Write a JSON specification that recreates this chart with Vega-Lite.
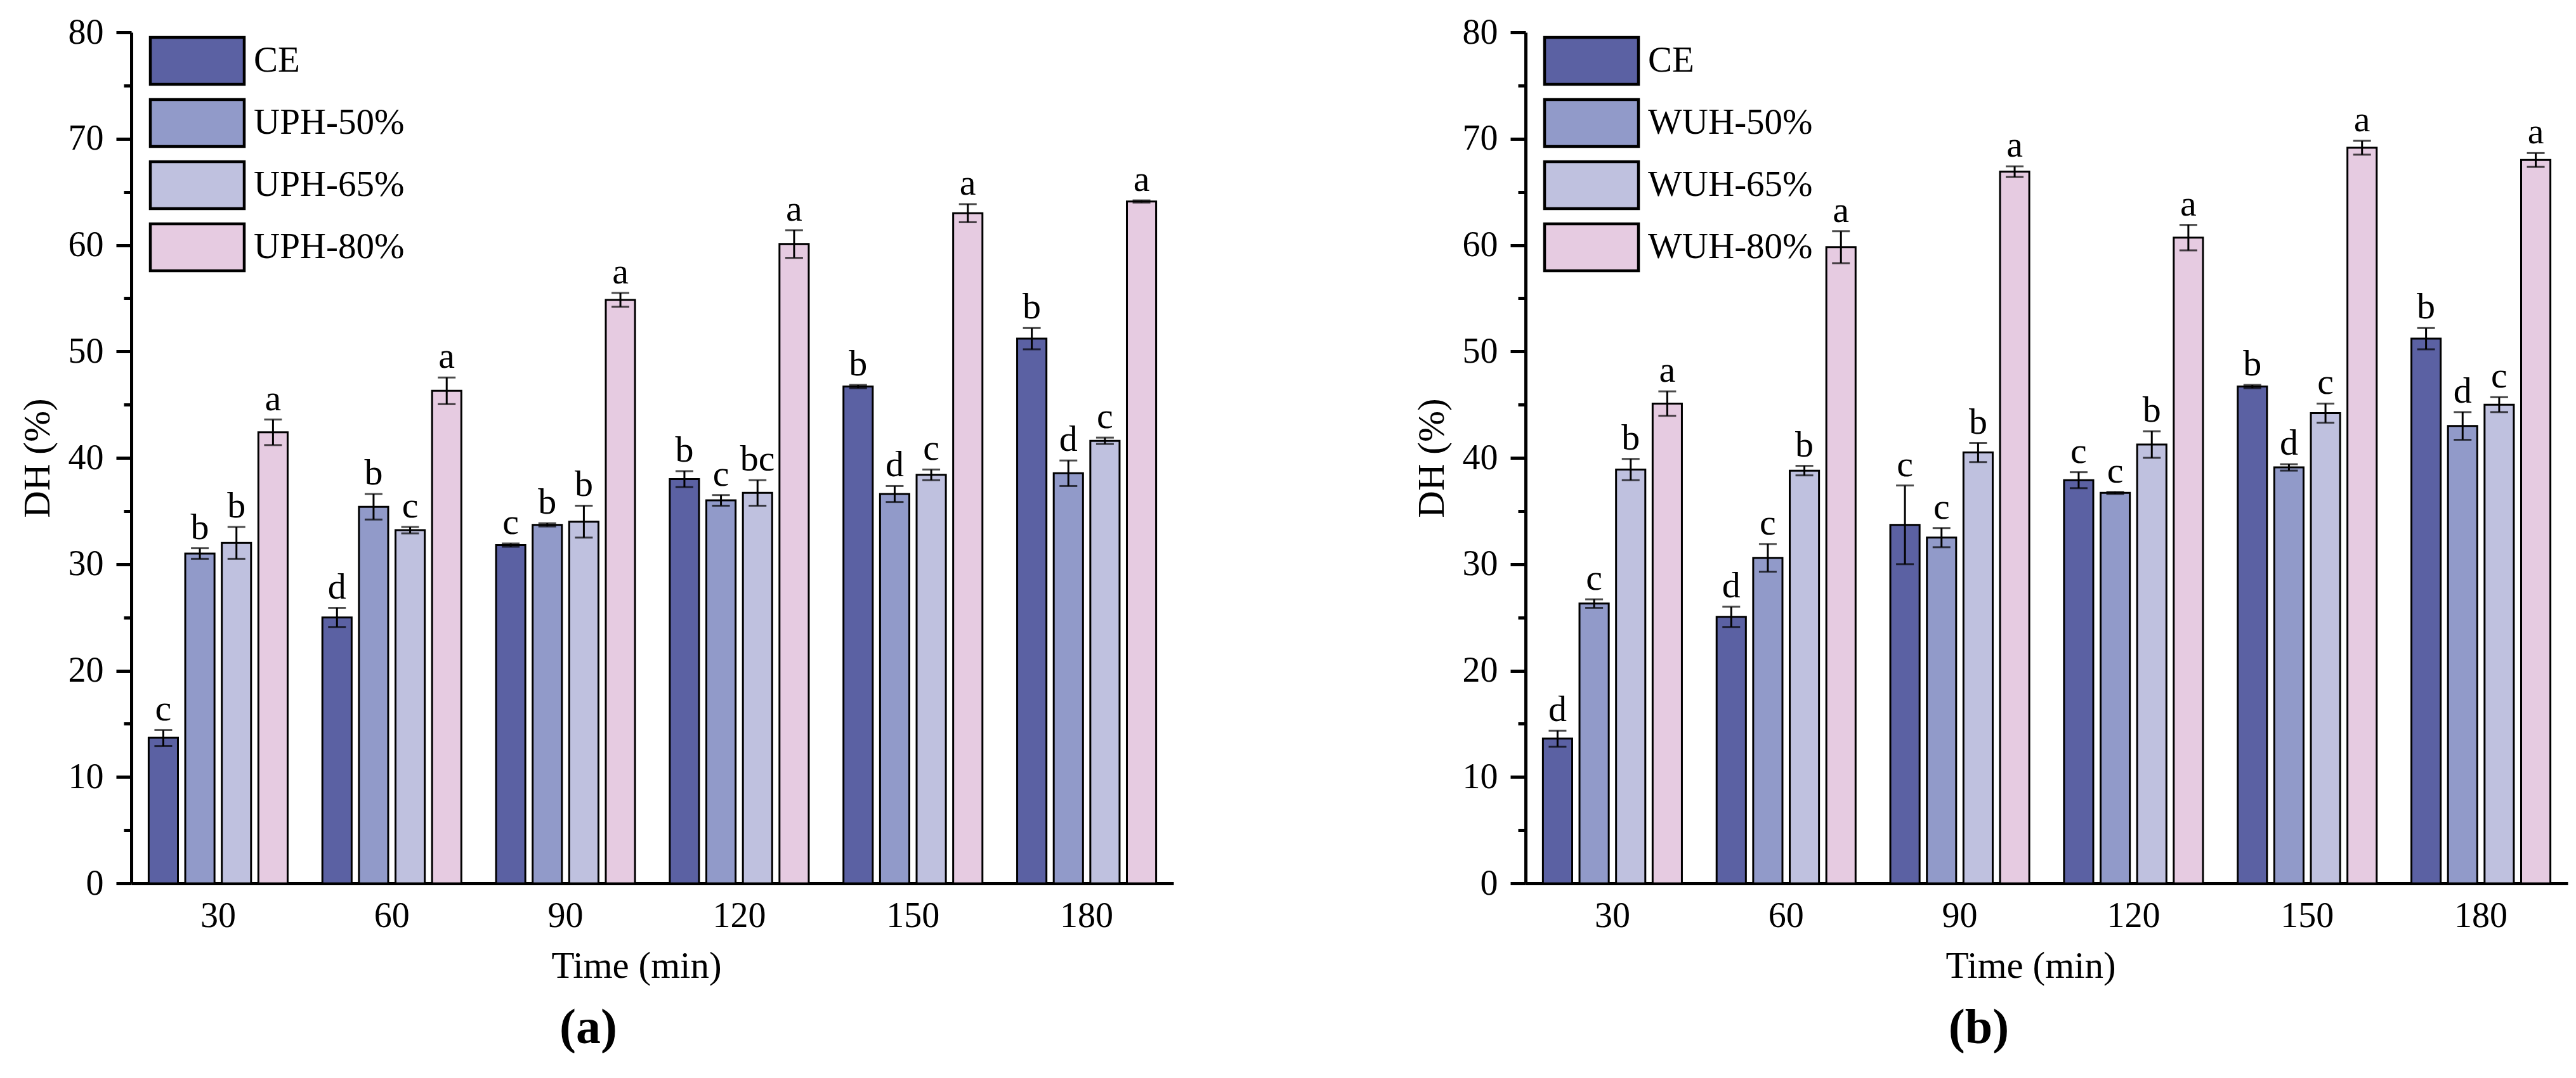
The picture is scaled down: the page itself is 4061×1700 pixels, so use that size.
{
  "$schema": "https://vega.github.io/schema/vega-lite/v6.json",
  "autosize": {"type": "pad"},
  "padding": {"left": 30, "top": 23, "right": 10, "bottom": 0},
  "config": {
    "font": "Liberation Serif",
    "view": {"stroke": null},
    "axis": {
      "domainColor": "black", "domainWidth": 5, "tickColor": "black", "tickWidth": 5,
      "labelColor": "black", "titleColor": "black", "labelFontSize": 56, "titleFontSize": 59,
      "titleFontWeight": "normal", "grid": false, "labelFont": "Liberation Serif", "titleFont": "Liberation Serif"
    },
    "legend": {"labelLimit": 0}
  },
  "datasets": {
    "a": [
      {"t":30,"g":"CE","v":13.7,"lo":12.9,"hi":14.4,"l":"c"},
      {"t":30,"g":"UPH-50%","v":31.0,"lo":30.5,"hi":31.5,"l":"b"},
      {"t":30,"g":"UPH-65%","v":32.0,"lo":30.5,"hi":33.5,"l":"b"},
      {"t":30,"g":"UPH-80%","v":42.4,"lo":41.2,"hi":43.6,"l":"a"},
      {"t":60,"g":"CE","v":25.0,"lo":24.1,"hi":25.9,"l":"d"},
      {"t":60,"g":"UPH-50%","v":35.4,"lo":34.2,"hi":36.6,"l":"b"},
      {"t":60,"g":"UPH-65%","v":33.2,"lo":32.9,"hi":33.5,"l":"c"},
      {"t":60,"g":"UPH-80%","v":46.3,"lo":45.05,"hi":47.55,"l":"a"},
      {"t":90,"g":"CE","v":31.8,"lo":31.65,"hi":31.95,"l":"c"},
      {"t":90,"g":"UPH-50%","v":33.7,"lo":33.55,"hi":33.85,"l":"b"},
      {"t":90,"g":"UPH-65%","v":34.0,"lo":32.5,"hi":35.5,"l":"b"},
      {"t":90,"g":"UPH-80%","v":54.85,"lo":54.2,"hi":55.5,"l":"a"},
      {"t":120,"g":"CE","v":38.0,"lo":37.25,"hi":38.75,"l":"b"},
      {"t":120,"g":"UPH-50%","v":36.0,"lo":35.5,"hi":36.5,"l":"c"},
      {"t":120,"g":"UPH-65%","v":36.7,"lo":35.5,"hi":37.9,"l":"bc"},
      {"t":120,"g":"UPH-80%","v":60.1,"lo":58.8,"hi":61.4,"l":"a"},
      {"t":150,"g":"CE","v":46.7,"lo":46.55,"hi":46.85,"l":"b"},
      {"t":150,"g":"UPH-50%","v":36.6,"lo":35.85,"hi":37.35,"l":"d"},
      {"t":150,"g":"UPH-65%","v":38.4,"lo":37.9,"hi":38.9,"l":"c"},
      {"t":150,"g":"UPH-80%","v":63.0,"lo":62.15,"hi":63.85,"l":"a"},
      {"t":180,"g":"CE","v":51.2,"lo":50.2,"hi":52.2,"l":"b"},
      {"t":180,"g":"UPH-50%","v":38.55,"lo":37.35,"hi":39.75,"l":"d"},
      {"t":180,"g":"UPH-65%","v":41.6,"lo":41.3,"hi":41.9,"l":"c"},
      {"t":180,"g":"UPH-80%","v":64.1,"lo":64.0,"hi":64.2,"l":"a"}
    ],
    "b": [
      {"t":30,"g":"CE","v":13.6,"lo":12.85,"hi":14.35,"l":"d"},
      {"t":30,"g":"WUH-50%","v":26.3,"lo":25.9,"hi":26.7,"l":"c"},
      {"t":30,"g":"WUH-65%","v":38.9,"lo":37.9,"hi":39.9,"l":"b"},
      {"t":30,"g":"WUH-80%","v":45.1,"lo":43.95,"hi":46.25,"l":"a"},
      {"t":60,"g":"CE","v":25.05,"lo":24.1,"hi":26.0,"l":"d"},
      {"t":60,"g":"WUH-50%","v":30.6,"lo":29.3,"hi":31.9,"l":"c"},
      {"t":60,"g":"WUH-65%","v":38.8,"lo":38.35,"hi":39.25,"l":"b"},
      {"t":60,"g":"WUH-80%","v":59.8,"lo":58.3,"hi":61.3,"l":"a"},
      {"t":90,"g":"CE","v":33.7,"lo":30.0,"hi":37.4,"l":"c"},
      {"t":90,"g":"WUH-50%","v":32.5,"lo":31.6,"hi":33.4,"l":"c"},
      {"t":90,"g":"WUH-65%","v":40.5,"lo":39.6,"hi":41.4,"l":"b"},
      {"t":90,"g":"WUH-80%","v":66.9,"lo":66.4,"hi":67.4,"l":"a"},
      {"t":120,"g":"CE","v":37.9,"lo":37.15,"hi":38.65,"l":"c"},
      {"t":120,"g":"WUH-50%","v":36.7,"lo":36.6,"hi":36.8,"l":"c"},
      {"t":120,"g":"WUH-65%","v":41.25,"lo":40.0,"hi":42.5,"l":"b"},
      {"t":120,"g":"WUH-80%","v":60.7,"lo":59.5,"hi":61.9,"l":"a"},
      {"t":150,"g":"CE","v":46.7,"lo":46.55,"hi":46.85,"l":"b"},
      {"t":150,"g":"WUH-50%","v":39.1,"lo":38.8,"hi":39.4,"l":"d"},
      {"t":150,"g":"WUH-65%","v":44.2,"lo":43.3,"hi":45.1,"l":"c"},
      {"t":150,"g":"WUH-80%","v":69.15,"lo":68.5,"hi":69.8,"l":"a"},
      {"t":180,"g":"CE","v":51.2,"lo":50.2,"hi":52.2,"l":"b"},
      {"t":180,"g":"WUH-50%","v":43.0,"lo":41.7,"hi":44.3,"l":"d"},
      {"t":180,"g":"WUH-65%","v":45.0,"lo":44.3,"hi":45.7,"l":"c"},
      {"t":180,"g":"WUH-80%","v":68.0,"lo":67.35,"hi":68.65,"l":"a"}
    ]
  },
  "spacing": 378,
  "resolve": {"scale": {"color": "independent", "fill": "independent", "xOffset": "independent"}, "legend": {"fill": "independent"}},
  "hconcat": [
    {
      "width": 1643, "height": 1342,
      "data": {"name": "a"},
      "title": {"text": "(a)", "orient": "bottom", "frame": "group", "anchor": "middle", "dx": -101, "offset": 30, "fontSize": 78, "fontWeight": "bold", "font": "Liberation Serif", "color": "black"},
      "encoding": {
        "x": {"field": "t", "type": "ordinal", "scale": {"paddingInner": 0.2, "paddingOuter": 0.1},
              "axis": {"title": "Time (min)", "ticks": false, "labelAngle": 0, "labelPadding": 24, "titlePadding": 22, "titleX": 796}},
        "xOffset": {"field": "g", "type": "nominal", "scale": {"domain": ["CE","UPH-50%","UPH-65%","UPH-80%"], "paddingInner": 0.2, "paddingOuter": 0}}
      },
      "layer": [
        {
          "mark": {"type": "bar", "stroke": "black", "strokeWidth": 3},
          "encoding": {
            "y": {"field": "v", "type": "quantitative", "scale": {"domain": [0, 80], "nice": false},
                  "axis": {"title": "DH (%)", "values": [0,5,10,15,20,25,30,35,40,45,50,55,60,65,70,75,80],
                           "labelExpr": "datum.value % 10 === 0 ? datum.label : ''",
                           "tickSize": {"condition": {"test": "datum.value % 10 === 0", "value": 24}, "value": 12},
                           "labelPadding": 20, "titlePadding": 18}},
            "fill": {"field": "g", "type": "nominal",
                     "scale": {"domain": ["CE","UPH-50%","UPH-65%","UPH-80%"], "range": ["#5b61a3","#919ac9","#bfc1df","#e6cbe1"]},
                     "legend": {"orient": "none", "legendX": 64.5, "legendY": 5.5, "title": null, "padding": 0,
                                "symbolType": "M-2,-1H2V1H-2Z", "symbolSize": 5476, "symbolStrokeColor": "black", "symbolStrokeWidth": 4.5,
                                "symbolOpacity": 1, "labelFontSize": 57, "labelFont": "Liberation Serif", "labelColor": "black",
                                "labelOffset": 49.5, "rowPadding": 5, "labelLimit": 0}}
          }
        },
        {"mark": {"type": "rule", "color": "black", "strokeWidth": 3},
         "encoding": {"y": {"field": "lo", "type": "quantitative"}, "y2": {"field": "hi"}}},
        {"mark": {"type": "tick", "color": "black", "thickness": 3, "size": 28},
         "encoding": {"y": {"field": "lo", "type": "quantitative"}}},
        {"mark": {"type": "tick", "color": "black", "thickness": 3, "size": 28},
         "encoding": {"y": {"field": "hi", "type": "quantitative"}}},
        {"mark": {"type": "text", "baseline": "alphabetic", "dy": -15, "fontSize": 58, "font": "Liberation Serif", "color": "black"},
         "encoding": {"y": {"field": "hi", "type": "quantitative"}, "text": {"field": "l"}}}
      ]
    },
    {
      "width": 1643, "height": 1342,
      "data": {"name": "b"},
      "title": {"text": "(b)", "orient": "bottom", "frame": "group", "anchor": "middle", "dx": -107, "offset": 30, "fontSize": 78, "fontWeight": "bold", "font": "Liberation Serif", "color": "black"},
      "encoding": {
        "x": {"field": "t", "type": "ordinal", "scale": {"paddingInner": 0.2, "paddingOuter": 0.1},
              "axis": {"title": "Time (min)", "ticks": false, "labelAngle": 0, "labelPadding": 24, "titlePadding": 22, "titleX": 796}},
        "xOffset": {"field": "g", "type": "nominal", "scale": {"domain": ["CE","WUH-50%","WUH-65%","WUH-80%"], "paddingInner": 0.2, "paddingOuter": 0}}
      },
      "layer": [
        {
          "mark": {"type": "bar", "stroke": "black", "strokeWidth": 3},
          "encoding": {
            "y": {"field": "v", "type": "quantitative", "scale": {"domain": [0, 80], "nice": false},
                  "axis": {"title": "DH (%)", "values": [0,5,10,15,20,25,30,35,40,45,50,55,60,65,70,75,80],
                           "labelExpr": "datum.value % 10 === 0 ? datum.label : ''",
                           "tickSize": {"condition": {"test": "datum.value % 10 === 0", "value": 24}, "value": 12},
                           "labelPadding": 20, "titlePadding": 18}},
            "fill": {"field": "g", "type": "nominal",
                     "scale": {"domain": ["CE","WUH-50%","WUH-65%","WUH-80%"], "range": ["#5b61a3","#919ac9","#bfc1df","#e6cbe1"]},
                     "legend": {"orient": "none", "legendX": 64.5, "legendY": 5.5, "title": null, "padding": 0,
                                "symbolType": "M-2,-1H2V1H-2Z", "symbolSize": 5476, "symbolStrokeColor": "black", "symbolStrokeWidth": 4.5,
                                "symbolOpacity": 1, "labelFontSize": 57, "labelFont": "Liberation Serif", "labelColor": "black",
                                "labelOffset": 49.5, "rowPadding": 5, "labelLimit": 0}}
          }
        },
        {"mark": {"type": "rule", "color": "black", "strokeWidth": 3},
         "encoding": {"y": {"field": "lo", "type": "quantitative"}, "y2": {"field": "hi"}}},
        {"mark": {"type": "tick", "color": "black", "thickness": 3, "size": 28},
         "encoding": {"y": {"field": "lo", "type": "quantitative"}}},
        {"mark": {"type": "tick", "color": "black", "thickness": 3, "size": 28},
         "encoding": {"y": {"field": "hi", "type": "quantitative"}}},
        {"mark": {"type": "text", "baseline": "alphabetic", "dy": -15, "fontSize": 58, "font": "Liberation Serif", "color": "black"},
         "encoding": {"y": {"field": "hi", "type": "quantitative"}, "text": {"field": "l"}}}
      ]
    }
  ]
}
